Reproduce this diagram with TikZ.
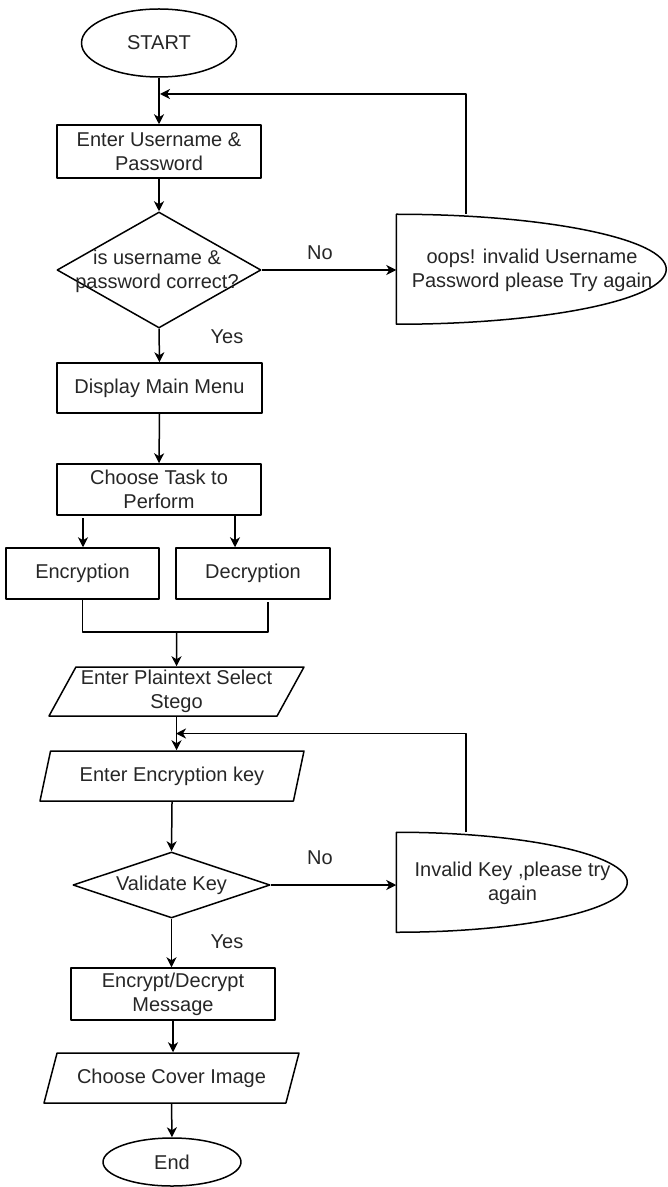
\documentclass[tikz,border=0pt]{standalone}
\usepackage{fontspec}
\setmainfont{Liberation Sans}
\usetikzlibrary{shapes.geometric,arrows.meta}

\begin{document}
\begin{tikzpicture}[x=0.5pt, y=-0.5pt, line width=0.75pt, line join=round, text=black!85,
		box/.style={draw, rectangle, align=center, inner sep=1pt},
		term/.style={draw, ellipse, inner sep=0pt},
		decision/.style={draw, diamond, inner sep=0pt},
		io/.style={draw, trapezium, trapezium left angle=60, trapezium right angle=120, trapezium stretches body, align=center, inner sep=1pt},
		flow/.style={-{Stealth[length=5pt, width=5pt, inset=1.5pt]}}]
			\useasboundingbox (0,0) rectangle (668,1187);
			
			\coordinate (back1) at (160,94);
			\coordinate (up1) at (466,0);
			\coordinate (left1) at (83,518);
			\coordinate (right1) at (235,514);
			\coordinate (decb) at (268,602);
			\coordinate (join) at (176.5,632);
			\coordinate (back2) at (176,733.5);
			
			\node[term, minimum width=77.5pt, minimum height=34pt] (start) at (159,43) {START};
			\node[box, minimum width=102pt, minimum height=26.5pt] (login) at (159,151.5) {Enter Username \&\\Password};
			\node[decision, minimum width=102pt, minimum height=58pt] (check) at (159,270) {};
			\node[align=center] (checktext) at (157,271) {is username \&\\password correct?};
			\node[minimum width=135pt, minimum height=55pt, align=center] (oops) at (532,270) {oops! invalid Username\\Password please Try again};
			\draw (oops.north west) arc[start angle=90, end angle=-90, x radius=135pt, y radius=27.5pt] -- cycle;
			\node[box, minimum width=102.5pt, minimum height=25pt] (menu) at (159.5,388) {Display Main Menu};
			\node[box, minimum width=102pt, minimum height=25.5pt] (task) at (159,489.5) {Choose Task to\\Perform};
			\node[box, minimum width=76.5pt, minimum height=25.5pt] (enc) at (82.5,573.5) {Encryption};
			\node[box, minimum width=77pt, minimum height=25.5pt] (dec) at (253,573.5) {Decryption};
			\node[io, minimum width=127.5pt, minimum height=24.5pt] (plain) at (176.5,691.5) {Enter Plaintext Select\\Stego};
			\node[io, trapezium left angle=65, trapezium right angle=115, minimum width=132pt, minimum height=25pt] (key) at (172,776) {Enter Encryption key};
			\node[decision, minimum width=98.5pt, minimum height=33pt] (valid) at (171.5,885) {};
			\node (validtext) at (171.5,885) {Validate Key};
			\node[minimum width=115.5pt, minimum height=50pt, align=center] (bad) at (512.5,883) {Invalid Key ,please try\\again};
			\draw (bad.north west) arc[start angle=90, end angle=-90, x radius=115.5pt, y radius=25pt] -- cycle;
			\node[box, minimum width=102pt, minimum height=26pt] (crypt) at (173,994) {Encrypt/Decrypt\\Message};
			\node[io, minimum width=127.5pt, minimum height=25pt] (cover) at (171.5,1078) {Choose Cover Image};
			\node[term, minimum width=69pt, minimum height=24pt] (stop) at (172,1162) {End};
			
			\node (no1) at (320,253) {No};
			\node (yes1) at (227,337) {Yes};
			\node (no2) at (320,858) {No};
			\node (yes2) at (227,942) {Yes};
			
			\draw[flow] (start.south) -- (login.north);
			\draw[flow] (oops.north -| up1) |- (back1);
			\draw[flow] (login.south) -- (check.north);
			\draw[flow] (check.east) -- (oops.west);
			\draw[flow] (check.south) -- (menu.north);
			\draw[flow] (menu.south) -- (task.north);
			\draw[flow] (left1) -- (left1 |- enc.north);
			\draw[flow] (right1) -- (right1 |- dec.north);
			\draw (enc.south) |- (join) -| (decb);
			\draw[flow] (join) -- (plain.north);
			\draw[flow] (plain.south) -- (plain.south |- key.north);
			\draw[flow] (bad.north -| up1) |- (back2);
			\draw[flow] (key.south) -- (valid.north);
			\draw[flow] (valid.east) -- (valid.east -| bad.west);
			\draw[flow] (valid.south) -- (valid.south |- crypt.north);
			\draw[flow] (crypt.south) -- (crypt.south |- cover.north);
			\draw[flow] (cover.south) -- (stop.north);
		\end{tikzpicture}
\end{document}
